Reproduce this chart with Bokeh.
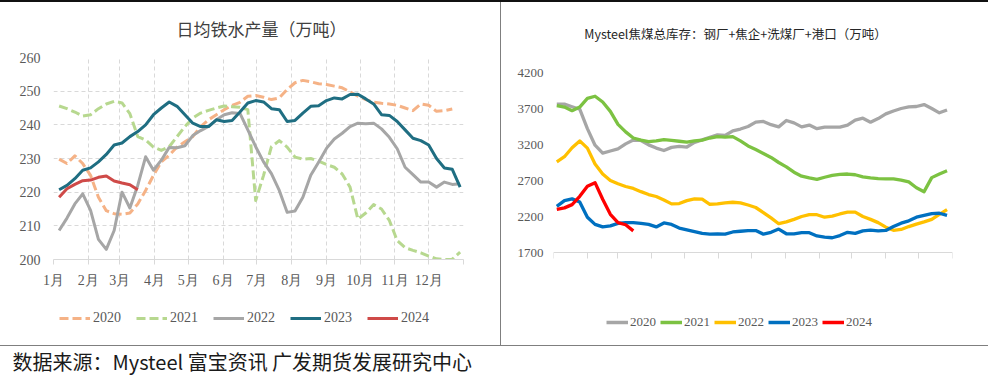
from bokeh.plotting import figure
from bokeh.models import FixedTicker, Legend, LegendItem, Spacer, Range1d, Label
from bokeh.layouts import column, row
from bokeh.embed import file_html
from bokeh.resources import INLINE

# ---------------- data ----------------
month_ticks = [0, 31, 59, 90, 120, 151, 181, 212, 243, 273, 304, 334]
left_month_labels = ["1月", "2月", "3月", "4月", "5月", "6月", "7月", "8月", "9月", "10月", "11月", "12月"]
right_month_labels = ["1/1", "2/1", "3/1", "4/1", "5/1", "6/1", "7/1", "8/1", "9/1", "10/1", "11/1", "12/1"]
years = ["2020", "2021", "2022", "2023", "2024"]

# 日均铁水产量（万吨）, weekly
hm_2020 = [229.8, 228.5, 230.8, 228.5, 225, 218.5, 214.5, 213.6, 213.4, 213.8, 216.5, 220.5, 225, 229, 231,
           233.4, 235, 236.5, 239.5, 241.5, 243, 244.5, 245.8, 246.7, 248.5, 248.7, 248.2, 247.5, 248, 250.5,
           252.5, 253.2, 252.8, 252.2, 252, 251.5, 251, 249.8, 248.5, 247.5, 246.7, 246.4, 246.2, 245.8, 245,
           244.2, 246.2, 245.8, 244, 244.2, 244.7]
hm_2021 = [245.6, 244.8, 243.8, 242.6, 243, 244.8, 246.2, 247, 246.5, 243.3, 236.5, 235.5, 233.4, 232.4, 233.5,
           236.5, 239.5, 242, 243.5, 244.3, 245, 245.6, 245.4, 245.2, 244.5, 217.5, 225, 233.5, 235.3, 233.4,
           230.4, 229.8, 230, 229.2, 228.2, 227.4, 225.4, 221.5, 212, 213.8, 216.3, 215, 211.6, 205.6, 203.5,
           202.7, 202, 201, 200.2, 200, 200.1, 202.2]
hm_2022 = [208.6, 212.3, 216.5, 219.5, 214.6, 206, 203, 208.6, 220, 215.3, 222, 230.5, 226.5, 229.5, 233.3,
           233.2, 233.8, 236.8, 238.3, 239.5, 241.5, 243, 243.6, 243.4, 238.5, 233.5, 229, 225.5, 220.5, 214,
           214.4, 218.5, 225, 228.9, 233, 235.8, 237.5, 239.5, 240.5, 240.3, 240.5, 238.8, 236.3, 232.9, 227.4,
           225.2, 223, 223, 221.5, 223, 222.3, 222.5]
hm_2023 = [220.7, 222, 224, 226.5, 227.2, 229, 231.2, 234, 234.6, 236.5, 238, 240, 243, 245, 246.8, 245.5, 243,
           240.5, 239.5, 239.5, 241.5, 241, 241.3, 243.8, 246.5, 247.2, 246.8, 244.8, 244.5, 241, 241.3, 243.5,
           245.5, 245.7, 247.2, 248, 247.7, 249, 249.1, 247.7, 246.2, 243, 242.8, 241, 238.5, 236, 235.3, 234,
           230, 227.2, 226.8, 221.5]
hm_2024 = [218.5, 221, 222.3, 223.4, 223.6, 224.4, 224.8, 223.3, 222.7, 222.2, 220.7]

# Mysteel焦煤总库存（万吨）, weekly
cs_2020 = [3760, 3760, 3725, 3690, 3420, 3190, 3080, 3110, 3140, 3209, 3262, 3256, 3195, 3150, 3117, 3160, 3175,
           3165, 3230, 3265, 3300, 3335, 3325, 3390, 3415, 3450, 3510, 3520, 3475, 3445, 3533, 3500, 3445, 3470,
           3420, 3440, 3441, 3441, 3470, 3540, 3565, 3510, 3560, 3625, 3665, 3700, 3722, 3728, 3755, 3700, 3640,
           3680]
cs_2021 = [3740, 3720, 3670, 3720, 3840, 3870, 3790, 3660, 3480, 3375, 3290, 3262, 3240, 3250, 3268, 3256, 3245,
           3232, 3250, 3262, 3290, 3310, 3302, 3310, 3250, 3180, 3130, 3075, 3020, 2950, 2890, 2815, 2760, 2735,
           2715, 2745, 2770, 2785, 2790, 2780, 2750, 2735, 2725, 2723, 2723, 2705, 2680, 2600, 2545, 2740, 2790,
           2835]
cs_2022 = [2960, 3030, 3155, 3250, 3150, 2930, 2790, 2700, 2655, 2617, 2590, 2545, 2505, 2478, 2430, 2375, 2380,
           2420, 2445, 2440, 2370, 2375, 2390, 2398, 2390, 2360, 2325, 2255, 2180, 2100, 2125, 2160, 2200, 2226,
           2225, 2190, 2205, 2235, 2260, 2260, 2200, 2160, 2115, 2052, 2008, 2020, 2060, 2095, 2125, 2160, 2230,
           2295]
cs_2023 = [2340, 2420, 2445, 2400, 2190, 2090, 2055, 2070, 2105, 2115, 2115, 2105, 2090, 2055, 2110, 2090, 2040,
           2015, 1990, 1965, 1955, 1960, 1955, 1985, 1995, 2005, 2005, 1955, 1980, 2025, 1960, 1960, 1975, 1975,
           1930, 1915, 1905, 1935, 1980, 1965, 2000, 2010, 2000, 2006, 2060, 2107, 2140, 2190, 2215, 2240, 2245,
           2215]
cs_2024 = [2300, 2320, 2365, 2480, 2620, 2670, 2440, 2230, 2115, 2085, 2000]

left_series = [hm_2020, hm_2021, hm_2022, hm_2023, hm_2024]
right_series = [cs_2020, cs_2021, cs_2022, cs_2023, cs_2024]


def week_days(n, first_day):
    return [first_day + 7 * i for i in range(n)]


SERIF = "Liberation Serif"
CJK = "Noto Sans CJK SC"
TXT = "#595959"

left_styles = [
    dict(color="#F5B286", dash="9 4"),
    dict(color="#B7D88F", dash="9 4"),
    dict(color="#A6A6A6", dash="solid"),
    dict(color="#1F6E82", dash="solid"),
    dict(color="#CF4A48", dash="solid"),
]
right_colors = ["#A6A6A6", "#7CC242", "#FFC000", "#0070C0", "#FF0000"]


def blank(width, height, xr, yr):
    f = figure(width=width, height=height, x_range=Range1d(*xr), y_range=Range1d(*yr),
               output_backend="svg", toolbar_location=None,
               min_border_left=0, min_border_right=0, min_border_top=0, min_border_bottom=0)
    f.axis.visible = False
    f.grid.grid_line_color = None
    f.outline_line_color = None
    return f


# ---------------- title row ----------------
TH = 40
tl = blank(500, TH, (0, 500), (0, TH))
tl.add_layout(Label(x=261, y=14, text="日均铁水产量（万吨）", text_font=CJK, text_font_size="17px",
                    text_color="#404040", text_align="center", text_baseline="middle"))
tr = blank(487, TH, (0, 487), (0, TH))
tr.add_layout(Label(x=234, y=9, text="Mysteel焦煤总库存：钢厂+焦企+洗煤厂+港口（万吨）", text_font=CJK,
                    text_font_size="12.5px", text_color="#262626", text_align="center",
                    text_baseline="middle"))

# ---------------- left chart ----------------
MH = 258
pl = figure(width=500, height=MH, x_range=Range1d(0, 365), y_range=Range1d(200, 260),
            output_backend="svg", toolbar_location=None,
            min_border_left=53, min_border_right=37, min_border_top=15, min_border_bottom=41)
pl.outline_line_color = None
for vals, st in zip(left_series, left_styles):
    pl.line(week_days(len(vals), 5), vals, line_color=st["color"], line_width=3,
            line_dash=st["dash"], line_join="round")

pl.xaxis.ticker = FixedTicker(ticks=month_ticks + [365])
pl.xaxis.major_label_overrides = {**{t: l for t, l in zip(month_ticks, left_month_labels)}, 365: ""}
pl.yaxis.ticker = FixedTicker(ticks=[200, 210, 220, 230, 240, 250, 260])
for ax in (pl.xaxis[0], pl.yaxis[0]):
    ax.major_label_text_font = SERIF
    ax.major_label_text_font_size = "14px"
    ax.major_label_text_color = TXT
    ax.minor_tick_line_color = None
pl.xaxis.axis_line_color = "#D9D9D9"
pl.xaxis.major_tick_line_color = "#D9D9D9"
pl.xaxis.major_tick_out = 5
pl.xaxis.major_tick_in = 0
pl.xaxis.major_label_standoff = 8
pl.yaxis.axis_line_color = None
pl.yaxis.major_tick_line_color = None
pl.yaxis.major_label_standoff = 7
pl.grid.grid_line_color = "#D9D9D9"
pl.grid.grid_line_dash = "4 3"

# ---------------- right chart ----------------
# frame shares top/bottom with the left chart; range extended so 4200/1700 land where the reference has them
px_units = 500 / 36.0
pr = figure(width=487, height=MH, x_range=Range1d(0, 365),
            y_range=Range1d(1700 - 7 * px_units, 4200 + 15 * px_units),
            output_backend="svg", toolbar_location=None,
            min_border_left=52, min_border_right=36, min_border_top=15, min_border_bottom=41)
pr.outline_line_color = None
for vals, c in zip(right_series, right_colors):
    pr.line(week_days(len(vals), 3), vals, line_color=c, line_width=3.3, line_join="round")

pr.xaxis.fixed_location = 1700
pr.xaxis.ticker = FixedTicker(ticks=month_ticks + [365])
pr.xaxis.major_label_overrides = {**{t: l for t, l in zip(month_ticks, right_month_labels)}, 365: ""}
pr.yaxis.ticker = FixedTicker(ticks=[1700, 2200, 2700, 3200, 3700, 4200])
for ax in (pr.xaxis[0], pr.yaxis[0]):
    ax.major_label_text_font = SERIF
    ax.major_label_text_font_size = "13px"
    ax.major_label_text_color = TXT
    ax.minor_tick_line_color = None
pr.xaxis.axis_line_color = "#D9D9D9"
pr.xaxis.major_tick_line_color = "#D9D9D9"
pr.xaxis.major_tick_out = 6
pr.xaxis.major_tick_in = 0
pr.xaxis.major_label_standoff = 8
pr.yaxis.axis_line_color = None
pr.yaxis.major_tick_line_color = None
pr.yaxis.major_label_standoff = 4
pr.grid.grid_line_color = None

# ---------------- legend row ----------------
# The legend strips hold the same series, drawn outside their (0..1) view so only the legend shows.
LH = 45
ll = blank(500, LH, (0, 1), (0, 1))
items_l = []
for yr, vals, st in zip(years, left_series, left_styles):
    r = ll.line(week_days(len(vals), 5), vals, line_color=st["color"], line_width=3, line_dash=st["dash"])
    items_l.append(LegendItem(label=yr, renderers=[r]))
ll.add_layout(Legend(items=items_l, orientation="horizontal", location=(59, 19),
                     glyph_width=31, glyph_height=16, label_height=16, label_standoff=3, spacing=15,
                     padding=0, margin=0, border_line_color=None, background_fill_alpha=0,
                     label_text_font=SERIF, label_text_font_size="14px", label_text_color=TXT), "center")

lr = blank(487, LH, (0, 1), (0, 1))
items_r = []
for yr, vals, c in zip(years, right_series, right_colors):
    r = lr.line(week_days(len(vals), 3), vals, line_color=c, line_width=3.5)
    items_r.append(LegendItem(label=yr, renderers=[r]))
lr.add_layout(Legend(items=items_r, orientation="horizontal", location=(105, 15),
                     glyph_width=22, glyph_height=16, label_height=16, label_standoff=2, spacing=4,
                     padding=0, margin=0, border_line_color=None, background_fill_alpha=0,
                     label_text_font=SERIF, label_text_font_size="13px", label_text_color=TXT), "center")

# ---------------- source line ----------------
pb = blank(988, 29, (0, 988), (0, 29))
pb.add_layout(Label(x=12, y=14.5, text="数据来源：Mysteel 富宝资讯 广发期货发展研究中心",
                    text_font=CJK, text_font_size="20px", text_color="#1a1a1a",
                    text_baseline="middle"))


def vdiv(h):
    return Spacer(width=1, height=h, styles={"background-color": "#7F7F7F"})


top_line = Spacer(width=988, height=2, styles={"background-color": "#111111"})
h_line = Spacer(width=988, height=1, styles={"background-color": "#7F7F7F"})

layout = column(top_line,
                row(tl, vdiv(TH), tr, spacing=0),
                row(pl, vdiv(MH), pr, spacing=0),
                row(ll, vdiv(LH), lr, spacing=0),
                h_line, pb, spacing=0)

open("out.html", "w").write(file_html(layout, INLINE))
